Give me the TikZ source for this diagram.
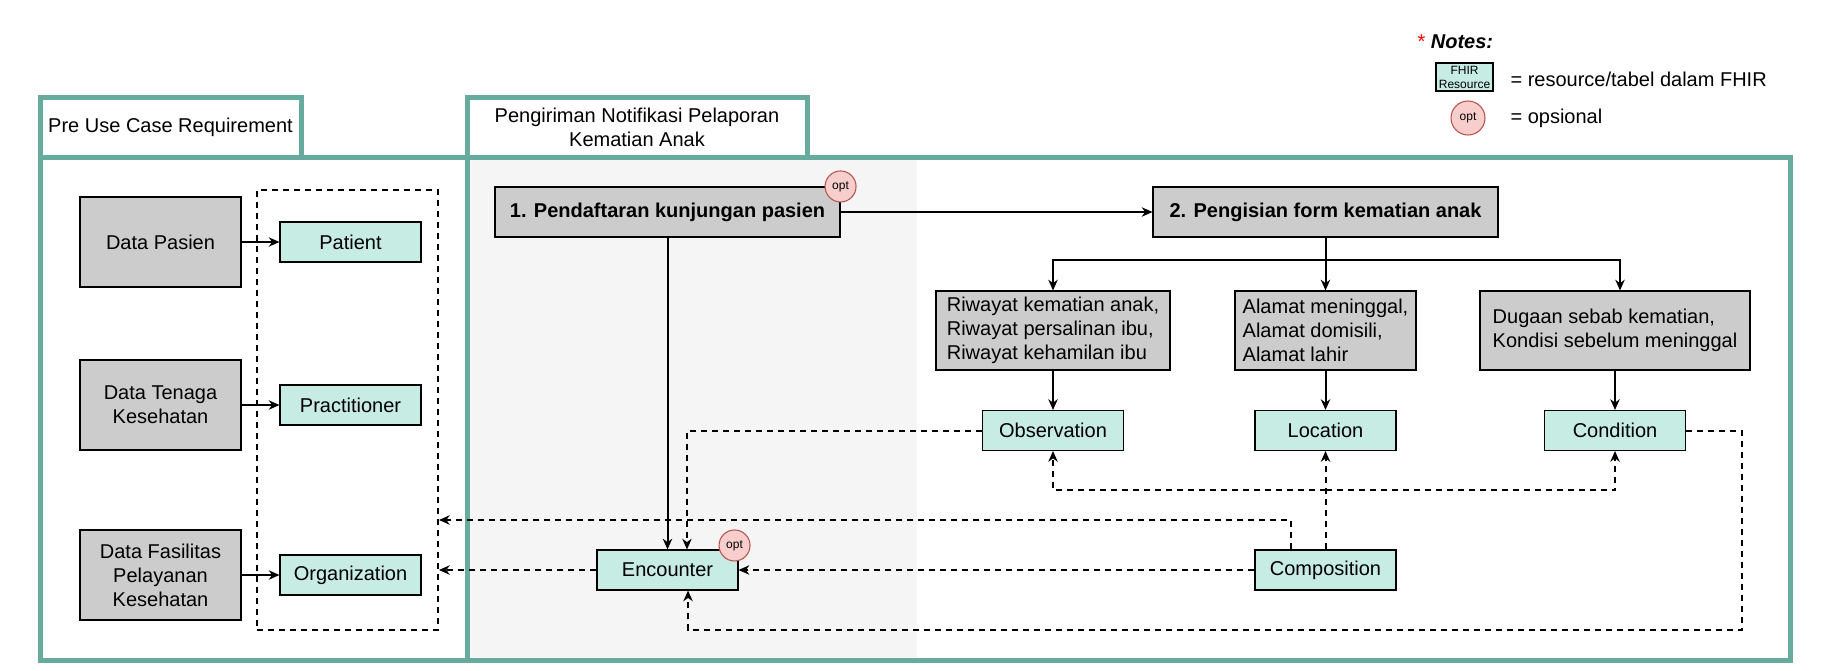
\documentclass[tikz,border=0pt]{standalone}
\usepackage{fontspec}
\setmainfont{Liberation Sans}
\usetikzlibrary{arrows.meta,positioning}
\definecolor{stepgray}{HTML}{CCCCCC}
\definecolor{resgreen}{HTML}{C7ECE4}
\definecolor{shadegray}{HTML}{F5F5F5}
\definecolor{frameteal}{HTML}{67AB9F}
\definecolor{optpink}{HTML}{F8CECC}
\definecolor{optred}{HTML}{B85450}
\begin{document}
\begin{tikzpicture}[x=0.75pt,y=-0.75pt,>={Stealth[length=8pt,width=7pt,inset=2.5pt]},thick,node distance=75pt,
							font=\fontsize{15}{18}\selectfont,
							step node/.style={rectangle,draw,fill=stepgray,minimum width=258.75pt,minimum height=37.5pt,font=\fontsize{15}{18}\selectfont\bfseries},
							data node/.style={rectangle,draw,fill=stepgray,minimum width=120.75pt,minimum height=67.5pt,align=center},
							form node/.style={rectangle,draw,fill=stepgray,minimum height=59.25pt,align=left},
							res node/.style={rectangle,draw,fill=resgreen,minimum width=105.75pt,minimum height=30pt},
							opt node/.style={circle,draw=optred,fill=optpink,minimum size=23.25pt,inner sep=0pt,font=\fontsize{9}{10}\selectfont},
							frame/.style={draw=frameteal,line width=3.75pt},
							link/.style={line width=1.5pt},
							dash link/.style={line width=1.5pt,dash pattern=on 4.5pt off 3.75pt}]
							
							\useasboundingbox (0,0) rectangle (1831,671);
							\fill[shadegray] (470,160) rectangle (917,658);
							\draw[frame] (40,157) rectangle (467,660);
							\draw[frame] (40,97) rectangle (301,157);
							\draw[frame] (467,157) rectangle (1790,660);
							\draw[frame] (467,97) rectangle (807,157);
							
							\node (t1) at (170.5,127) {Pre Use Case Requirement};
							\node[align=center] (t2) at (637,127) {Pengiriman Notifikasi Pelaporan\\Kematian Anak};
							
							\node[data node] (1) at (160.5,242) {Data Pasien};
							\node[data node] (2) at (160.5,405) {Data Tenaga\\Kesehatan};
							\node[data node] (3) at (160.5,575) {Data Fasilitas\\Pelayanan\\Kesehatan};
							\node[res node] (4) [right of=1,node distance=142.5pt] {Patient};
							\node[res node] (6) [right of=2,node distance=142.5pt] {Practitioner};
							\node[res node] (7) [right of=3,node distance=142.5pt] {Organization};
							\node[draw,dash link,minimum width=135.75pt,minimum height=330pt] (5) at (347.5,410) {};
							
							\node[step node] (10) at (667.5,212) {1. Pendaftaran kunjungan pasien};
							\node[step node] (11) at (1325.5,212) {2. Pengisian form kematian anak};
							\node[form node,minimum width=175.5pt] (12) at (1053,330.5) {Riwayat kematian anak,\\Riwayat persalinan ibu,\\Riwayat kehamilan ibu};
							\node[form node,minimum width=135.75pt] (13) at (1325.5,330.5) {Alamat meninggal,\\Alamat domisili,\\Alamat lahir};
							\node[form node,minimum width=202.5pt] (14) at (1615,330.5) {Dugaan sebab kematian,\\Kondisi sebelum meninggal};
							\node[res node] (15) [below of=12] {Observation};
							\node[res node] (16) [below of=13] {Location};
							\node[res node] (17) [below of=14] {Condition};
							\node[res node] (18) at (667.5,570) {Encounter};
							\node[res node] (19) at (1325.5,570) {Composition};
							\node[opt node] (20) at (10.north east) {opt};
							\node[opt node] (21) at ([shift={(-4,-4)}]18.north east) {opt};
							
							\node[inner sep=0pt,anchor=west] (22) at (1417,42) {\textcolor{red}{*} \textbf{\textit{Notes:}}};
							\node[res node,minimum width=42.75pt,minimum height=21pt,inner sep=0pt,align=center,font=\fontsize{9}{10.5}\selectfont] (23) at (1464.5,77) {FHIR\\Resource};
							\node[inner sep=0pt,anchor=west] (24) at (1510,79) {= resource/tabel dalam FHIR};
							\node[opt node,minimum size=25.5pt] (25) at (1468,118) {opt};
							\node[inner sep=0pt,anchor=west] (26) at (1510,118) {= opsional};
							
							\coordinate (fork) at (1325.5,260);
							\coordinate (c1) at (1291,520);
							\coordinate (c2) at (1325.5,490);
							\coordinate (c3) at (1742,630);
							
							\path[->,link]
							    (1) edge (4)
							    (2) edge (6)
							    (3) edge (7)
							    (10) edge (11)
							    (10) edge (18)
							    (11) edge (13)
							    (12) edge (15)
							    (13) edge (16)
							    (14) edge (17);
							\draw[->,link] (fork) -| (12.north);
							\draw[->,link] (fork) -| ([xshift=3.75pt]14.north);
							
							\draw[->,dash link] (15.west) -| ([xshift=14.6pt]18.north);
							\draw[->,dash link] (19.west) -- (18.east);
							\draw[->,dash link] (18.west) -- (18.west -| 5.east);
							\draw[->,dash link] (19.north -| c1) -- (c1) -- (c1 -| 5.east);
							\draw[->,dash link] (19.north) -- (16.south);
							\draw[->,dash link] (c2) -| (15.south);
							\draw[->,dash link] (c2) -| (17.south);
							\draw[->,dash link] (17.east) -| (c3) -| ([xshift=15.4pt]18.south);
						\end{tikzpicture}
\end{document}
